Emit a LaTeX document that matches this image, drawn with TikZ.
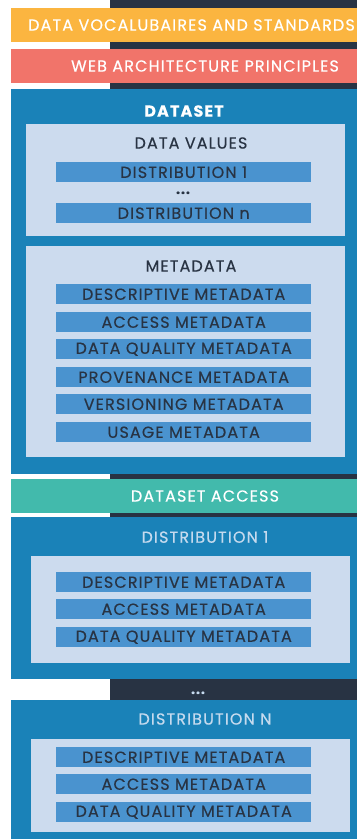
\documentclass[tikz,border=0pt]{standalone}
\usepackage{fontspec}
\setmainfont{Poppins}[LetterSpace=7,FakeBold=0.4]
\definecolor{cyellow}{HTML}{FBB540}
\definecolor{cred}{HTML}{F1746A}
\definecolor{cdark}{HTML}{283343}
\definecolor{cblue}{HTML}{1A82B8}
\definecolor{clight}{HTML}{CCDBEE}
\definecolor{cbar}{HTML}{4A93CF}
\definecolor{cteal}{HTML}{42BAAC}
\definecolor{ctitle}{HTML}{C5DAEE}
\begin{document}
\begin{tikzpicture}[x=1pt,y=-1pt,
  box/.style={rectangle,inner sep=0pt,anchor=north west,draw=none},
  barbox/.style={box,fill=cbar,minimum width=255pt,minimum height=20pt},
  bartext/.style={text=cdark,font=\fontsize{16}{18}\selectfont,inner sep=0pt},
  whitetext/.style={text=white,font=\fontsize{16}{18}\selectfont,inner sep=0pt},
  titletext/.style={text=ctitle,font=\fontsize{16}{18}\selectfont,inner sep=0pt},
  dotstext/.style={font=\fontsize{14}{16}\selectfont\bfseries,inner sep=0pt,anchor=base}]
\useasboundingbox (0,0) rectangle (357,839);
\fill[white] (0,0) rectangle (357,839);
% dark background strip
\node[box,fill=cdark,minimum width=247pt,minimum height=700pt] (bg) at (110,0) {};
% top bars
\node[box,fill=cyellow,minimum width=346pt,minimum height=34pt] (std) at (11,8) {};
\node[whitetext,anchor=west] (stdt) at (28,25) {DATA VOCALUBAIRES AND STANDARDS};
\node[box,fill=cred,minimum width=346pt,minimum height=34pt] (web) at (11,49) {};
\node[whitetext] (webt) at (205,66) {WEB ARCHITECTURE PRINCIPLES};
% dataset
\node[box,fill=cblue,minimum width=346pt,minimum height=385pt] (ds) at (11,89) {};
\node[whitetext,font=\fontsize{16}{18}\selectfont\bfseries] (dst) at (184,111) {DATASET};
\node[box,fill=clight,minimum width=319pt,minimum height=112pt] (dv) at (26,124) {};
\node[bartext] (dvt) at (191,143) {DATA VALUES};
\node[barbox] (dv1) at (56,162) {};
\node[bartext] (dv1t) at (dv1.center) {DISTRIBUTION 1};
\node[dotstext,text=cdark] (dvdots) at (183,194) {...};
\node[barbox] (dvn) at (56,203) {};
\node[bartext] (dvnt) at (dvn.center) {DISTRIBUTION n};
\node[box,fill=clight,minimum width=319pt,minimum height=211pt] (md) at (26,246) {};
\node[bartext] (mdt) at (191,266) {METADATA};
\node[barbox] (m1) at (56,284) {};
\node[bartext] (m1t) at (m1.center) {DESCRIPTIVE METADATA};
\node[barbox] (m2) at (56,312) {};
\node[bartext] (m2t) at (m2.center) {ACCESS METADATA};
\node[barbox] (m3) at (56,339) {};
\node[bartext] (m3t) at (m3.center) {DATA QUALITY METADATA};
\node[barbox] (m4) at (56,367) {};
\node[bartext] (m4t) at (m4.center) {PROVENANCE METADATA};
\node[barbox] (m5) at (56,394) {};
\node[bartext] (m5t) at (m5.center) {VERSIONING METADATA};
\node[barbox] (m6) at (56,422) {};
\node[bartext] (m6t) at (m6.center) {USAGE METADATA};
% dataset access
\node[box,fill=cteal,minimum width=346pt,minimum height=34pt] (acc) at (11,479) {};
\node[whitetext] (acct) at (205,496) {DATASET ACCESS};
% distribution 1
\node[box,fill=cblue,minimum width=346pt,minimum height=162pt] (d1) at (11,517) {};
\node[titletext] (d1t) at (205,537) {DISTRIBUTION 1};
\node[box,fill=clight,minimum width=319pt,minimum height=107pt] (d1b) at (31,556) {};
\node[barbox] (a1) at (56,572) {};
\node[bartext] (a1t) at (a1.center) {DESCRIPTIVE METADATA};
\node[barbox] (a2) at (56,599) {};
\node[bartext] (a2t) at (a2.center) {ACCESS METADATA};
\node[barbox] (a3) at (56,627) {};
\node[bartext] (a3t) at (a3.center) {DATA QUALITY METADATA};
\node[dotstext,text=ctitle] (dots) at (198,694) {...};
% distribution N
\node[box,fill=cblue,minimum width=346pt,minimum height=139pt] (dn) at (11,700) {};
\node[titletext] (dnt) at (205,719) {DISTRIBUTION N};
\node[box,fill=clight,minimum width=319pt,minimum height=93pt] (dnb) at (31,739) {};
\node[barbox] (b1) at (56,747) {};
\node[bartext] (b1t) at (b1.center) {DESCRIPTIVE METADATA};
\node[barbox] (b2) at (56,774) {};
\node[bartext] (b2t) at (b2.center) {ACCESS METADATA};
\node[barbox] (b3) at (56,802) {};
\node[bartext] (b3t) at (b3.center) {DATA QUALITY METADATA};
\end{tikzpicture}
\end{document}
